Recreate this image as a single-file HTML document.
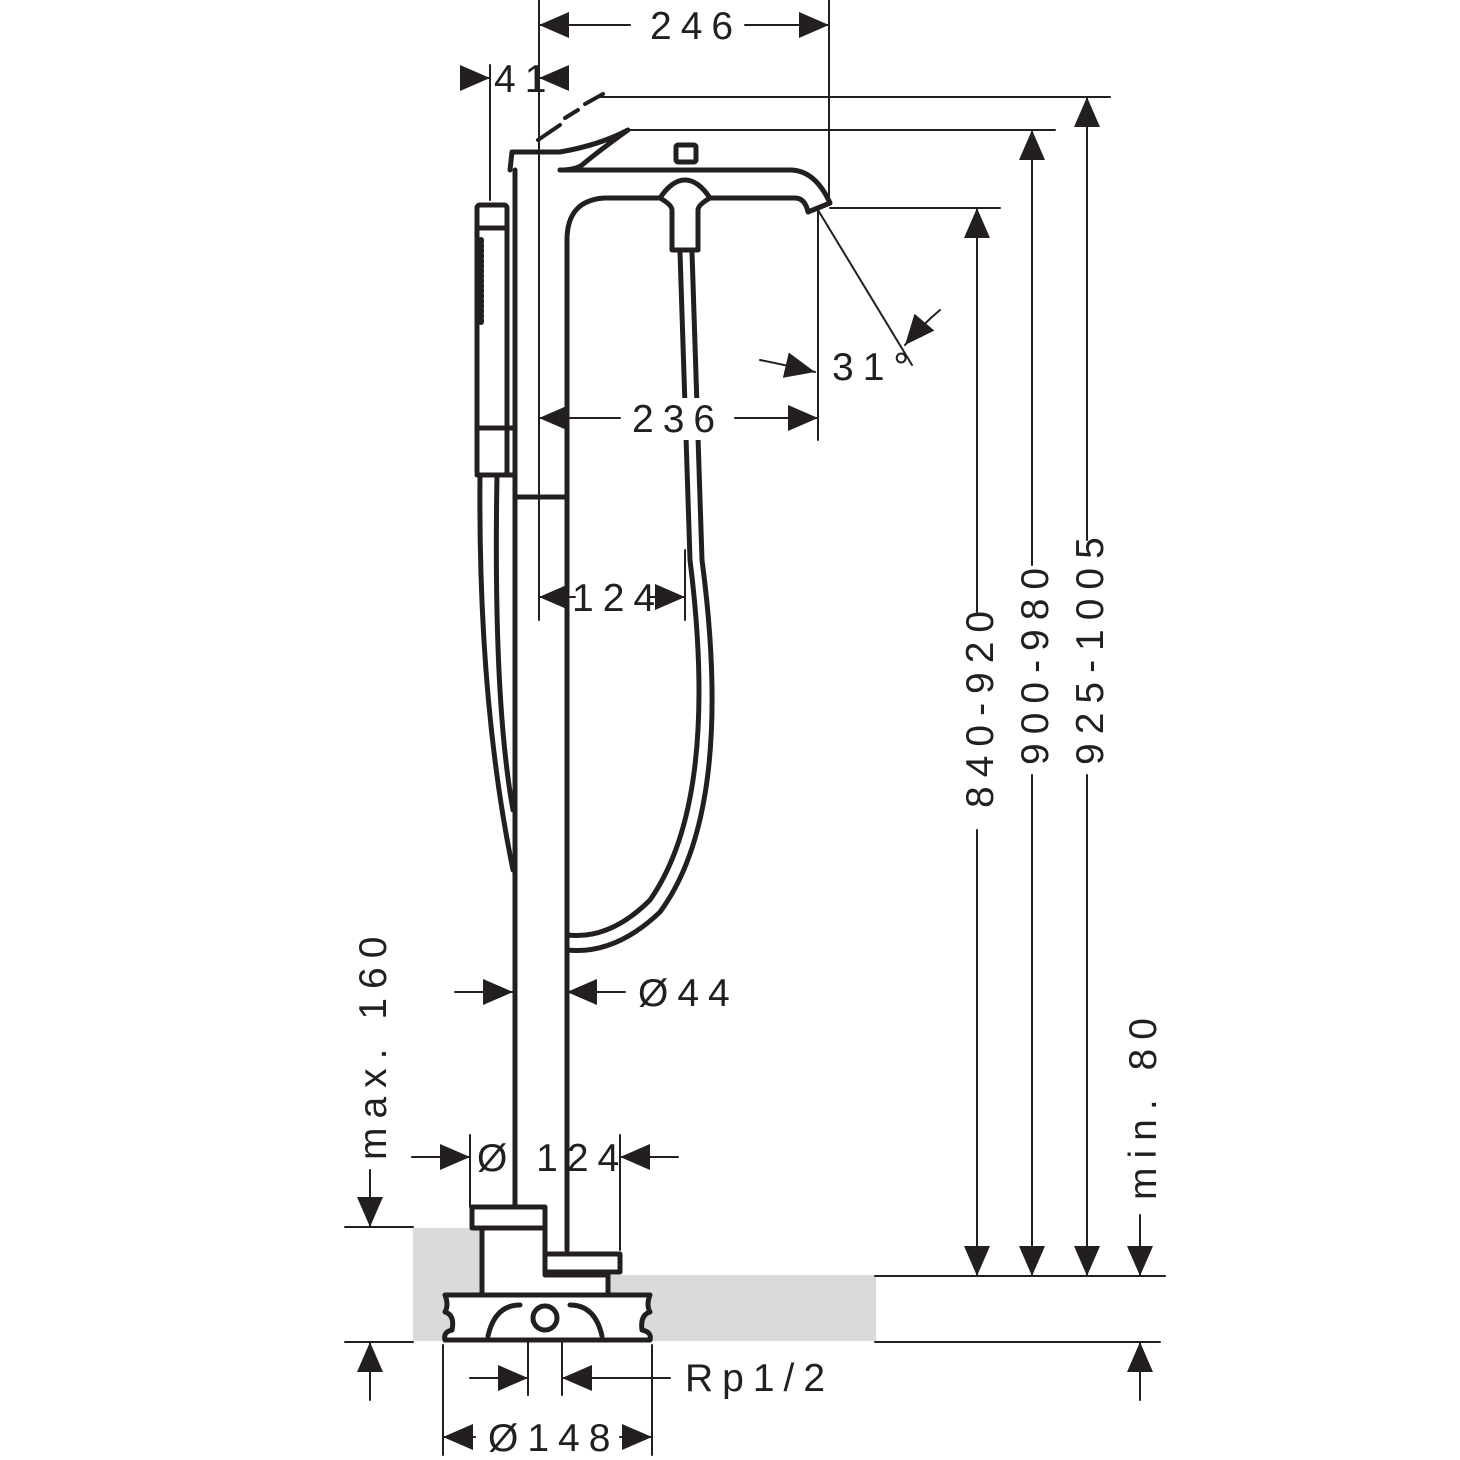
<!DOCTYPE html>
<html><head><style>
html,body{margin:0;padding:0;background:#fff;}
svg{display:block;}
text{font-family:"Liberation Sans",sans-serif;font-size:39px;letter-spacing:9px;fill:#231f20;}
</style></head><body>
<svg width="1460" height="1460" viewBox="0 0 1460 1460" xmlns="http://www.w3.org/2000/svg">
<defs>
<marker id="a" viewBox="0 0 30 26" refX="30" refY="13" markerWidth="30" markerHeight="26" orient="auto-start-reverse" markerUnits="userSpaceOnUse"><path d="M0,0L30,13L0,26z" fill="#231f20"/></marker>
</defs>
<g fill="#d9dad9" stroke="none">
<rect x="413" y="1228" width="70" height="113"/>
<rect x="608" y="1275" width="268" height="66"/>
</g>
<g stroke="#231f20" fill="none" stroke-linecap="round">
<g stroke-width="2">
<line x1="539" y1="0" x2="539" y2="620"/>
<line x1="829" y1="0" x2="829" y2="205"/>
<line x1="490" y1="65" x2="490" y2="200"/>
<line x1="600" y1="97" x2="1110" y2="97"/>
<line x1="630" y1="130" x2="1055" y2="130"/>
<line x1="830" y1="208" x2="1000" y2="208"/>
<line x1="818" y1="210" x2="818" y2="440"/>
<line x1="818" y1="210" x2="912" y2="365"/>
<line x1="685" y1="550" x2="685" y2="620"/>
<line x1="875" y1="1276" x2="1165" y2="1276"/>
<line x1="875" y1="1342" x2="1160" y2="1342"/>
<line x1="345" y1="1342" x2="413" y2="1342"/>
<line x1="345" y1="1227" x2="413" y2="1227"/>
<line x1="470" y1="1135" x2="470" y2="1207"/>
<line x1="620" y1="1135" x2="620" y2="1250"/>
<line x1="443" y1="1345" x2="443" y2="1455"/>
<line x1="652" y1="1345" x2="652" y2="1455"/>
<line x1="528" y1="1300" x2="528" y2="1395"/>
<line x1="562" y1="1300" x2="562" y2="1395"/>
</g>
<g stroke-width="2">
<line x1="630" y1="25" x2="539" y2="25" marker-end="url(#a)"/>
<line x1="745" y1="25" x2="829" y2="25" marker-end="url(#a)"/>
<line x1="462" y1="78" x2="490" y2="78" marker-end="url(#a)"/>
<line x1="568" y1="78" x2="539" y2="78" marker-end="url(#a)"/>
<line x1="620" y1="418" x2="539" y2="418" marker-end="url(#a)"/>
<line x1="735" y1="418" x2="818" y2="418" marker-end="url(#a)"/>
<line x1="575" y1="597" x2="539" y2="597" marker-end="url(#a)"/>
<line x1="650" y1="597" x2="685" y2="597" marker-end="url(#a)"/>
<path d="M760,360 Q785,365 815,372" marker-end="url(#a)"/>
<path d="M940,310 Q922,325 905,345" marker-end="url(#a)"/>
<line x1="455" y1="992" x2="513" y2="992" marker-end="url(#a)"/>
<line x1="625" y1="992" x2="567" y2="992" marker-end="url(#a)"/>
<line x1="412" y1="1157" x2="470" y2="1157" marker-end="url(#a)"/>
<line x1="678" y1="1157" x2="620" y2="1157" marker-end="url(#a)"/>
<line x1="470" y1="1378" x2="528" y2="1378" marker-end="url(#a)"/>
<line x1="670" y1="1378" x2="562" y2="1378" marker-end="url(#a)"/>
<line x1="475" y1="1437" x2="443" y2="1437" marker-end="url(#a)"/>
<line x1="620" y1="1437" x2="652" y2="1437" marker-end="url(#a)"/>
<line x1="977" y1="612" x2="977" y2="208" marker-end="url(#a)"/>
<line x1="977" y1="830" x2="977" y2="1276" marker-end="url(#a)"/>
<line x1="1032" y1="565" x2="1032" y2="130" marker-end="url(#a)"/>
<line x1="1032" y1="775" x2="1032" y2="1276" marker-end="url(#a)"/>
<line x1="1087" y1="540" x2="1087" y2="97" marker-end="url(#a)"/>
<line x1="1087" y1="775" x2="1087" y2="1276" marker-end="url(#a)"/>
<line x1="1140" y1="1215" x2="1140" y2="1276" marker-end="url(#a)"/>
<line x1="1140" y1="1400" x2="1140" y2="1342" marker-end="url(#a)"/>
<line x1="370" y1="1170" x2="370" y2="1227" marker-end="url(#a)"/>
<line x1="370" y1="1400" x2="370" y2="1342" marker-end="url(#a)"/>
</g>
<g stroke-width="5" stroke-linejoin="round">
<line x1="515" y1="170" x2="515" y2="1205"/>
<path d="M567,1250 L567,240 Q567,200 605,198 L660,198 M710,198 L795,198 Q805,198 808,212 L830,203 Q815,170 790,170 L560,170"/>
<path d="M510,170 L512,152 L560,152 Q600,145 628,130 Q600,150 582,165 Q575,170 560,170"/>
<path d="M538,140 L560,125 M565,118 L578,110 M585,104 L603,94" stroke-width="4"/>
<line x1="515" y1="497" x2="567" y2="497"/>
<path d="M660,198 Q672,180 685,180 Q698,180 710,198 Q698,205 698,210 L698,250 L672,250 L672,210 Q672,205 660,198"/>
<rect x="676" y="145" width="20" height="17" rx="2"/>
<path d="M680,252 L690,560 Q720,800 650,900 Q610,940 567,935"/>
<path d="M692,252 L702,560 Q735,810 660,912 Q615,955 567,950"/>
<rect x="477" y="205" width="30" height="270" rx="3"/>
<line x1="477" y1="228" x2="507" y2="228"/>
<line x1="477" y1="428" x2="514" y2="428"/>
<line x1="477" y1="475" x2="514" y2="475"/>
<path d="M480,475 Q478,700 513,870"/>
<path d="M497,475 Q493,700 513,810"/>
<path d="M481,240 L481,325" stroke-width="6" stroke-dasharray="2 3"/>
<path d="M472,1207 L545,1207 L545,1228 L472,1228 Z" fill="#fff"/>
<path d="M482,1228 L482,1292 M545,1228 L545,1254 L620,1254 L620,1272 L545,1272 L545,1254 M545,1272 L545,1275 L608,1275 L608,1292"/>
<path d="M445,1295 L650,1295 Q646,1305 650,1312 Q640,1315 642,1330 Q652,1332 650,1340 L445,1340 Q443,1332 452,1330 Q455,1315 445,1312 Q449,1305 445,1295" fill="#fff"/>
<circle cx="545" cy="1318" r="12"/>
<path d="M488,1336 Q495,1305 520,1305 M602,1336 Q595,1305 570,1305"/>
</g>
</g>
<rect x="625" y="398" width="95" height="42" fill="#fff"/>
<g>
<text x="650" y="39">246</text>
<text x="494" y="92">41</text>
<text x="632" y="432">236</text>
<text x="572" y="611">124</text>
<text x="832" y="380">31°</text>
<text x="638" y="1006">Ø44</text>
<text x="477" y="1171">Ø 124</text>
<text x="685" y="1391">Rp1/2</text>
<text x="488" y="1451">Ø148</text>
<text transform="translate(993,808) rotate(-90)">840-920</text>
<text transform="translate(1048,765) rotate(-90)">900-980</text>
<text transform="translate(1103,765) rotate(-90)">925-1005</text>
<text transform="translate(1156,1200) rotate(-90)">min. 80</text>
<text transform="translate(386,1160) rotate(-90)">max. 160</text>
</g>
</svg>
</body></html>
